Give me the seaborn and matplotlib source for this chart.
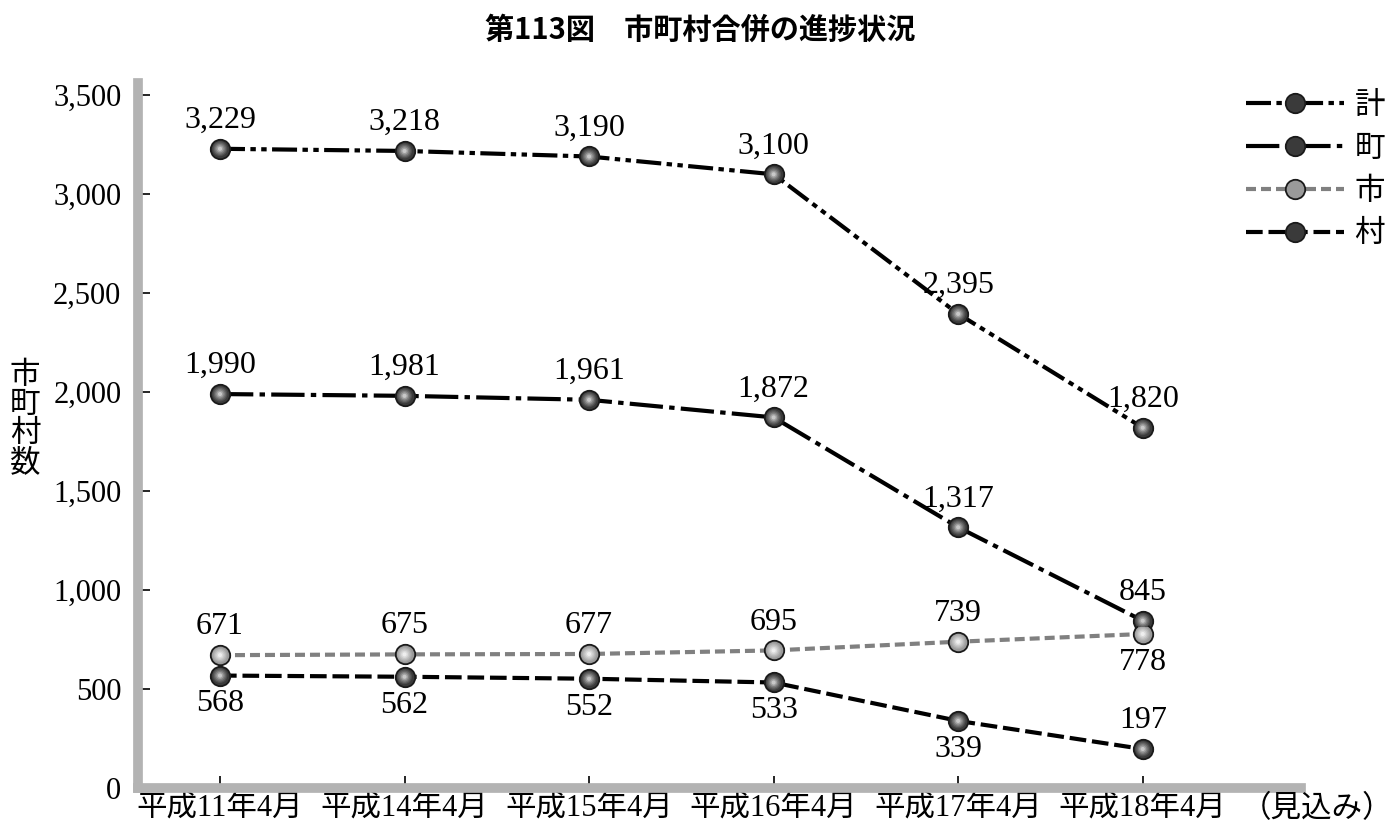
import numpy as np
import pandas as pd
import matplotlib
matplotlib.use('Agg')
import matplotlib.pyplot as plt
import seaborn as sns

# -------------------------
# Datos
# -------------------------
periods = ['平成11年4月', '平成14年4月', '平成15年4月', '平成16年4月', '平成17年4月', '平成18年4月']
total   = [3229, 3218, 3190, 3100, 2395, 1820]   # 計
towns   = [1990, 1981, 1961, 1872, 1317, 845]    # 町
cities  = [671, 675, 677, 695, 739, 778]         # 市
villages = [568, 562, 552, 533, 339, 197]        # 村

series_names = ['計', '町', '市', '村']
yticks = [0, 500, 1000, 1500, 2000, 2500, 3000, 3500]

# -------------------------
# Estilo
# -------------------------
sns.set_theme(style='white')
plt.rcParams['font.family'] = ['Liberation Serif', 'Noto Sans CJK JP', 'DejaVu Sans']
plt.rcParams['text.color'] = 'black'
plt.rcParams['xtick.color'] = 'black'
plt.rcParams['ytick.color'] = 'black'

df = pd.DataFrame({
    'pos': list(range(len(periods))) * 4,
    'value': total + towns + cities + villages,
    'series': [s for s in series_names for _ in periods],
})

dark_shades = ['#3a3a3a', '#4f4f4f', '#666666', '#808080', '#a0a0a0', '#c8c8c8']
light_shades = ['#9a9a9a', '#a8a8a8', '#b8b8b8', '#c8c8c8', '#dadada', '#eeeeee']
styles = {
    '計': dict(color='black', dashes=(6, 1.3, 1.3, 1.3, 1.3, 1.3), shades=dark_shades),
    '町': dict(color='black', dashes=(8, 1.5, 1.3, 1.5), shades=dark_shades),
    '市': dict(color='#808080', dashes=(2.4, 1.2), shades=light_shades),
    '村': dict(color='black', dashes=(4, 1.4), shades=dark_shades),
}
layer_sizes = [150, 115, 80, 50, 26, 9]

fig = plt.figure(figsize=(14, 8.4), dpi=100)
ax = fig.add_axes([0.0986, 0.0619, 0.831, 0.839])

for name in series_names:
    st = styles[name]
    sub = df[df['series'] == name]
    sns.lineplot(data=sub, x='pos', y='value', ax=ax, color=st['color'],
                 linewidth=3, marker='o', markersize=14,
                 markerfacecolor=st['shades'][0], markeredgecolor='#1a1a1a',
                 markeredgewidth=1.3, label=name, legend=False)
    ax.lines[-1].set_dashes(st['dashes'])
    # degradado tipo esfera
    for k, s in enumerate(layer_sizes[1:], start=1):
        sns.scatterplot(data=sub, x='pos', y='value', ax=ax, s=s,
                        color=st['shades'][k], edgecolor='none',
                        legend=False, zorder=3 + k)

# etiquetas de datos
label_pos = {
    '計': ['up'] * 6,
    '町': ['up'] * 6,
    '市': ['up'] * 5 + ['down'],
    '村': ['down'] * 5 + ['up'],
}
values = {'計': total, '町': towns, '市': cities, '村': villages}
for name in series_names:
    for i, v in enumerate(values[name]):
        up = label_pos[name][i] == 'up'
        ax.annotate(f'{v:,}', (i, v), xytext=(0, 10 if up else -10),
                    textcoords='offset points', ha='center',
                    va='bottom' if up else 'top', fontsize=23)

# ejes
ax.set_xlim(-0.444, 5.86)
ax.set_ylim(0, 3560)
ax.set_xticks(range(len(periods)))
ax.set_xticklabels(periods)
ax.set_yticks(yticks)
ax.set_yticklabels([f'{t:,}' for t in yticks])
ax.tick_params(axis='both', direction='in', length=8.5, width=1.2,
               color='black', labelcolor='black', labelsize=22,
               bottom=True, left=True)
ax.tick_params(axis='x', pad=5)
ax.tick_params(axis='y', pad=12)
ax.set_xlabel('')
ax.set_ylabel('')
for side in ['top', 'right']:
    ax.spines[side].set_visible(False)
for side in ['left', 'bottom']:
    ax.spines[side].set_color('#b3b3b3')
    ax.spines[side].set_linewidth(7)
    ax.spines[side].set_zorder(1)

ax.annotate('（見込み）', xy=(5.5, 0), xycoords=('data', 'axes fraction'),
            xytext=(4, -5), textcoords='offset points',
            ha='left', va='top', fontsize=22)

fig.text(0.018, 0.5, '市\n町\n村\n数', ha='center', va='center',
         fontsize=22, linespacing=1.0)

fig.suptitle('第113図　市町村合併の進捗状況', x=0.5, y=0.982,
             fontsize=21, fontweight='bold', family='Noto Sans CJK JP')

fig.legend(loc='upper right', bbox_to_anchor=(0.998, 0.905), frameon=False,
           fontsize=22, handlelength=3.2, handletextpad=0.35,
           labelspacing=0.45, borderaxespad=0)

plt.savefig('out.png', dpi=100)
plt.close()
